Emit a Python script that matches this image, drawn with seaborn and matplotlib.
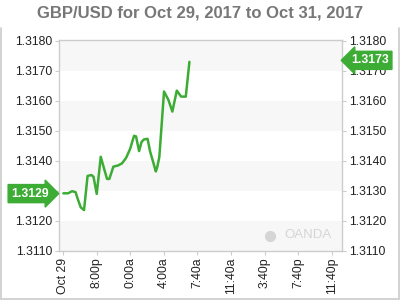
import matplotlib
matplotlib.use("Agg")
import matplotlib.pyplot as plt
import matplotlib.transforms as mtrans
from matplotlib.lines import Line2D
import seaborn as sns
import pandas as pd

# ---- data ----
hours = [0.04, 0.6, 1.07, 1.49, 1.79, 2.11, 2.5, 2.92, 3.39, 3.63, 4.01, 4.49,
         4.96, 5.24, 5.51, 5.99, 6.55, 7.02, 7.5, 7.98, 8.45, 8.69, 9.05, 9.35,
         9.64, 10.06, 10.36, 10.71, 11.04, 11.19, 11.46, 12.02, 12.54, 13.01,
         13.54, 14.05, 14.61, 15.04]
rates = [1.31291, 1.31291, 1.31298, 1.31295, 1.31269, 1.31244, 1.31235, 1.31349,
         1.31352, 1.31346, 1.31289, 1.31413, 1.31366, 1.31339, 1.31339, 1.31380,
         1.31384, 1.31391, 1.31409, 1.31439, 1.31483, 1.31481, 1.31432, 1.31463,
         1.31471, 1.31473, 1.31431, 1.31397, 1.31364, 1.31376, 1.31412, 1.31631,
         1.31603, 1.31564, 1.31634, 1.31614, 1.31614, 1.31730]
x_tick_pos = [0, 4, 8, 12, 16, 20, 24, 28, 32]
x_tick_labels = ["Oct 29", "8:00p", "0:00a", "4:00a", "7:40a", "11:40a",
                 "3:40p", "7:40p", "11:40p"]
y_ticks = [1.3110, 1.3120, 1.3130, 1.3140, 1.3150, 1.3160, 1.3170, 1.3180]
first_label = "1.3129"
last_label = "1.3173"
first_value = 1.3129
last_value = 1.3173
title = "GBP/USD for Oct 29, 2017 to Oct 31, 2017"

df = pd.DataFrame({"hours": hours, "rate": rates})

sns.set_style("white")
plt.rcParams["font.family"] = ["Liberation Sans", "DejaVu Sans"]

GREEN = "#3cac34"
GRID = "#cccccc"

fig = plt.figure(figsize=(4, 3), dpi=100)
ax = fig.add_axes([59 / 400, 1 - 250.5 / 300, (342 - 59) / 400, (250.5 - 40) / 300])

# alternating bands
for i in range(0, len(y_ticks) - 1, 2):
    ax.axhspan(y_ticks[i], y_ticks[i + 1], color="#f7f7f7", zorder=0, lw=0)

sns.lineplot(data=df, x="hours", y="rate", ax=ax, color=GREEN, lw=1.8, zorder=3)

ax.set_xlim(-0.48, 33.2)
ax.set_ylim(1.3110, 1.31803)
ax.set_xticks(x_tick_pos)
ax.set_xticklabels(x_tick_labels, rotation=90, fontsize=8.8, color="#222222")
ax.set_yticks(y_ticks)
ax.set_yticklabels([f"{v:.4f}" for v in y_ticks], fontsize=8.8, color="#222222")
ax.set_xlabel("")
ax.set_ylabel("")
ax.tick_params(axis="both", length=3, width=0.8, color=GRID, pad=2)
ax.tick_params(axis="y", which="both", left=True, right=True, labelleft=True, labelright=True)
ax.tick_params(axis="x", bottom=True)
for s in ax.spines.values():
    s.set_visible(True)
    s.set_color(GRID)
    s.set_linewidth(1)

# the left tag covers the nearby left tick label
for t in ax.yaxis.get_majorticklabels():
    pass
fig.canvas.draw()
for tick in ax.yaxis.get_major_ticks():
    if abs(tick.get_loc() - 1.3130) < 1e-9:
        tick.label1.set_visible(False)

# title
fig.text(0.5, 1 - 13 / 300, title, ha="center", va="center", fontsize=12,
         fontweight="bold", color="#777777")

# value tags
trans = mtrans.blended_transform_factory(fig.transFigure, ax.transData)
ax.text(30 / 400, first_value, first_label, transform=trans, ha="center", va="center",
        fontsize=8.8, fontweight="bold", color="white", zorder=10,
        bbox=dict(boxstyle="rarrow,pad=0.25", fc=GREEN, ec=GREEN), clip_on=False)
ax.text(370 / 400, last_value + 0.00005, last_label, transform=trans, ha="center", va="center",
        fontsize=8.8, fontweight="bold", color="white", zorder=10,
        bbox=dict(boxstyle="larrow,pad=0.25", fc=GREEN, ec=GREEN), clip_on=False)

# watermark
ax.text(0.965, 0.045, "OANDA", transform=ax.transAxes, ha="right", va="bottom",
        fontsize=9.5, color="#d5d5d5")
ax.plot([0.745], [0.068], marker="o", ms=7, color="#d5d5d5", transform=ax.transAxes,
        clip_on=False)

# outer frame
fr = dict(color="#cccccc", lw=1.2, transform=fig.transFigure)
fig.add_artist(Line2D([0.002, 0.002], [0.002, 1 - 28 / 300], **fr))
fig.add_artist(Line2D([0.998, 0.998], [0.002, 1 - 28 / 300], **fr))
fig.add_artist(Line2D([0.002, 0.998], [0.002, 0.002], **fr))

fig.savefig("out.png", dpi=100)
